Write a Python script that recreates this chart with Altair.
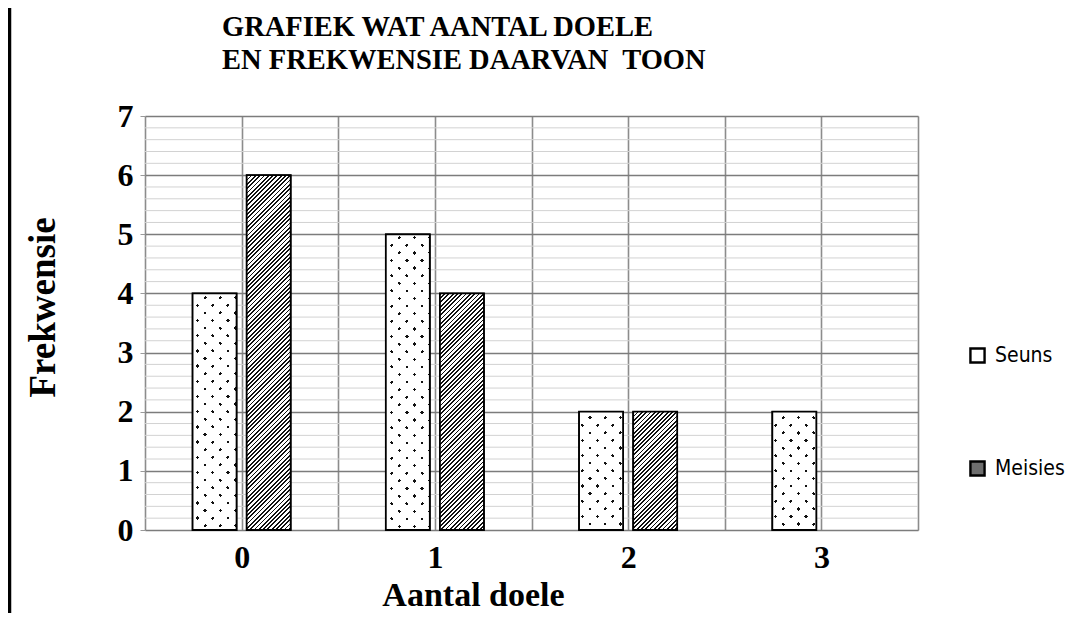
import altair as alt
import pandas as pd

# ---- data ----
doele = [0, 1, 2, 3]
seuns = [4, 5, 2, 2]
meisies = [6, 4, 2, 0]
reekse = ["Seuns", "Meisies"]

y_ticks = [0, 1, 2, 3, 4, 5, 6, 7]
y_minor = [0.2, 0.4, 0.6, 0.8, 1.2, 1.4, 1.6, 1.8, 2.2, 2.4, 2.6, 2.8,
           3.2, 3.4, 3.6, 3.8, 4.2, 4.4, 4.6, 4.8, 5.2, 5.4, 5.6, 5.8,
           6.2, 6.4, 6.6, 6.8]
x_grid = [-0.5, 0, 0.5, 1, 1.5, 2, 2.5, 3, 3.5]

title_lines = ["GRAFIEK WAT AANTAL DOELE", "EN FREKWENSIE DAARVAN\u00a0 TOON"]
x_title = "Aantal doele"
y_title = "Frekwensie"

# ---- layout / style ----
W, H = 773, 414
YMAX = 7
BAR_W = 44
SERIF = "Liberation Serif, Times New Roman, serif"
LEGEND_FONT = "DejaVu Sans Condensed, Liberation Sans Narrow, sans-serif"

rows = []
for i, d in enumerate(doele):
    rows.append({"doele": d, "reeks": "Seuns", "waarde": seuns[i]})
    rows.append({"doele": d, "reeks": "Meisies", "waarde": meisies[i]})
df = pd.DataFrame(rows)
df = df[df["waarde"] > 0].reset_index(drop=True)

XPOS = "datum.doele + (datum.reeks == 'Seuns' ? -0.14 : 0.14)"

AX_X = alt.Axis(
    values=x_grid, title=x_title,
    labelExpr="datum.value % 1 == 0 ? format(datum.value, 'd') : ''",
    grid=True, gridColor="#8c8c8c", gridWidth=1.6,
    ticks=False, domain=False, labelOverlap=False, labelFlush=False,
    labelFont=SERIF, labelFontSize=32, labelFontWeight="bold", labelColor="black",
    labelPadding=12,
    titleFont=SERIF, titleFontSize=34, titleFontWeight="bold", titleColor="black",
    titleX=328, titleY=75, titleBaseline="alphabetic", titleAlign="center",
)
AX_Y = alt.Axis(
    values=y_ticks, title=y_title,
    grid=True, gridColor="#7c7c7c", gridWidth=1.5,
    ticks=True, tickColor="#999999", tickSize=5, domain=False,
    labelFont=SERIF, labelFontSize=32, labelFontWeight="bold", labelColor="black",
    labelPadding=7,
    titleFont=SERIF, titleFontSize=37, titleFontWeight="bold", titleColor="black",
    titleX=-83, titleY=191, titleAlign="center", titleBaseline="bottom",
)
XS = alt.Scale(domain=[-0.5, 3.5], nice=False, zero=False, padding=0)
YS = alt.Scale(domain=[0, YMAX], nice=False)


def X(field):
    return alt.X(field, type="quantitative", scale=XS, axis=AX_X)


def Y(field):
    return alt.Y(field, type="quantitative", scale=YS, axis=AX_Y, stack=False)


# ---- pattern fills as hard-stop gradients ----
K = 520.0


def stripes(period, width, ink, paper):
    stops = []
    i = 0
    while i * period < K:
        a = i * period / K
        b = min((i * period + width) / K, 1.0)
        c = min((i + 1) * period / K, 1.0)
        stops += [(a, ink), (b, ink), (b, paper), (c, paper)]
        i += 1
    return [alt.GradientStop(offset=round(o, 5), color=col) for o, col in stops]


HATCH = stripes(4.3, 1.8, "#111111", "#ffffff")
DOT_A = stripes(15.2, 3.4, "#111111", "#ffffff")
DOT_B = stripes(15.2, 3.4, "rgba(255,255,255,0)", "#ffffff")


def grad(value, kind, stops):
    h = value * H / YMAX
    w = float(BAR_W)
    s = K / (w * w + h * h)
    dx, dy = s * w, s * h
    if kind == "slash":
        return alt.LinearGradient(gradient="linear", x1=0, y1=0,
                                  x2=round(dx, 5), y2=round(dy, 5), stops=stops)
    return alt.LinearGradient(gradient="linear", x1=0, y1=1,
                              x2=round(dx, 5), y2=round(1 - dy, 5), stops=stops)


def bars(filter_expr=None):
    c = alt.Chart(df)
    if filter_expr:
        c = c.transform_filter(filter_expr)
    return c.transform_calculate(xpos=XPOS)


layers = []

# minor horizontal grid lines
layers.append(
    alt.Chart(pd.DataFrame({"v": y_minor}))
    .mark_rule(color="#d2d2d2", strokeWidth=1)
    .encode(y=Y("v"), x=alt.value(0), x2=alt.value(W))
)

# base bars (carry the legend)
layers.append(
    bars().mark_bar(size=BAR_W, orient="vertical", stroke="black", strokeWidth=1.5)
    .encode(
        x=X("xpos"), y=Y("waarde"),
        color=alt.Color(
            "reeks:N",
            scale=alt.Scale(domain=reekse, range=["#ffffff", "#6e6e6e"]),
            legend=alt.Legend(
                title=None, orient="none", legendX=822, legendY=229,
                symbolType="square", symbolSize=200, symbolStrokeColor="black",
                symbolStrokeWidth=2.4, symbolOpacity=1,
                labelFont=LEGEND_FONT, labelFontSize=21, labelColor="black",
                labelOffset=7, rowPadding=88, padding=0,
            ),
        ),
    )
)

# patterned fills, one layer per bar
for i, d in enumerate(doele):
    v = seuns[i]
    if v > 0:
        f = f"datum.doele == {d} && datum.reeks == 'Seuns'"
        layers.append(bars(f).mark_bar(size=BAR_W, orient="vertical",
                                       fill=grad(v, "slash", DOT_A), strokeWidth=0)
                      .encode(x=X("xpos"), y=Y("waarde")))
        layers.append(bars(f).mark_bar(size=BAR_W, orient="vertical",
                                       fill=grad(v, "back", DOT_B), strokeWidth=0)
                      .encode(x=X("xpos"), y=Y("waarde")))
    v = meisies[i]
    if v > 0:
        f = f"datum.doele == {d} && datum.reeks == 'Meisies'"
        layers.append(bars(f).mark_bar(size=BAR_W, orient="vertical",
                                       fill=grad(v, "slash", HATCH), strokeWidth=0)
                      .encode(x=X("xpos"), y=Y("waarde")))

# outlines on top
layers.append(
    bars().mark_bar(size=BAR_W, orient="vertical", fillOpacity=0,
                    stroke="black", strokeWidth=1.8)
    .encode(x=X("xpos"), y=Y("waarde"))
)

# page frame line on the left
layers.append(
    alt.Chart(pd.DataFrame({"k": [0]}))
    .mark_rule(color="black", strokeWidth=3.5)
    .encode(x=alt.value(-135.5), y=alt.value(-108), y2=alt.value(497))
)

chart = (
    alt.layer(*layers)
    .properties(
        width=W, height=H,
        padding={"left": 137, "top": 108, "right": 160, "bottom": 83},
        autosize=alt.AutoSizeParams(type="none"),
        title=alt.TitleParams(
            text=title_lines, anchor="start", frame="group", dx=77, dy=68, offset=0,
            font=SERIF, fontSize=28.5, fontWeight="bold", color="black", lineHeight=33,
        ),
    )
    .configure_view(stroke="black", strokeWidth=2)
    .configure(background="white")
)

chart.save("out.html", embed_options={"renderer": "svg", "actions": False})
